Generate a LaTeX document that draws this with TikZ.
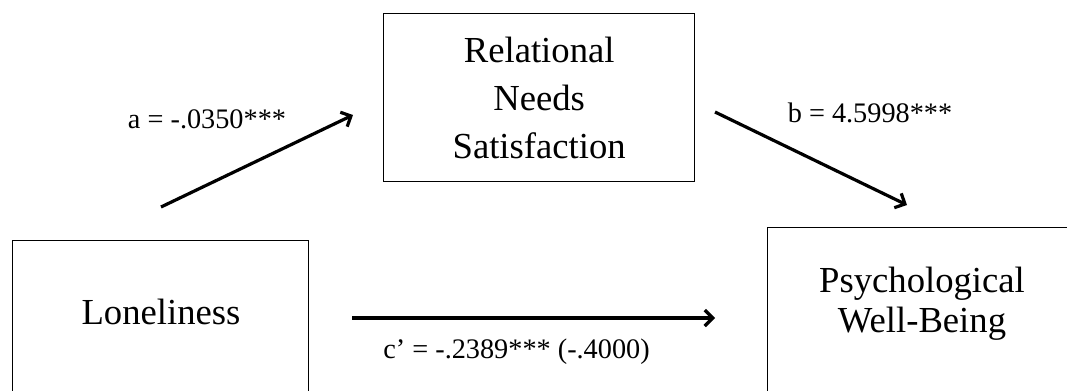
\documentclass[tikz,border=0pt]{standalone}
\usepackage{fontspec}
\setmainfont{Liberation Serif}
\usetikzlibrary{arrows.meta}

\begin{document}
\begin{tikzpicture}[x=0.75pt, y=-0.75pt, >={Straight Barb[length=6pt, width=12pt]},
    box/.style={draw, line width=1pt, anchor=north west, inner sep=0pt},
    boxtext/.style={font=\fontsize{27.5}{36}\selectfont, align=center},
    coef/.style={font=\fontsize{21.2}{26}\selectfont, anchor=base},
    arr/.style={->, line width=2.4pt}]
    \clip (0,0) rectangle (1067,390);

    % 1. Three variable boxes (two run off the bottom edge)
    \node[box, minimum width=222pt, minimum height=120pt] (lone) at (12,240) {};
    \node[box, boxtext, minimum width=233.25pt, minimum height=126pt] (rns) at (383,13)
        {Relational\\Needs\\Satisfaction};
    \node[box, minimum width=232.5pt, minimum height=127.5pt] (pwb) at (767,227) {};

    % Box texts
    \node[boxtext, anchor=base] (lonetext) at (161,324) {Loneliness};
    \node[boxtext, font=\fontsize{27.5}{30}\selectfont] (pwbtext) at (922,303.5)
        {Psychological\\Well-Being};

    % 2. End points of the paths
    \coordinate (a0) at (161,207);
    \coordinate (a1) at (353,115);
    \coordinate (b0) at (715,112);
    \coordinate (b1) at (907,205);
    \coordinate (c0) at (352,318);
    \coordinate (c1) at (715,318);

    % 3. Paths
    \foreach \p in {a, b, c} {
        \draw[arr] (\p0) -- (\p1);
    }

    % 4. Path coefficients
    \node[coef] (alabel) at (207,128) {a = -.0350***};
    \node[coef] (blabel) at (870,122) {b = 4.5998***};
    \node[coef] (clabel) at (516.5,358) {c’ = -.2389*** (-.4000)};
\end{tikzpicture}
\end{document}
